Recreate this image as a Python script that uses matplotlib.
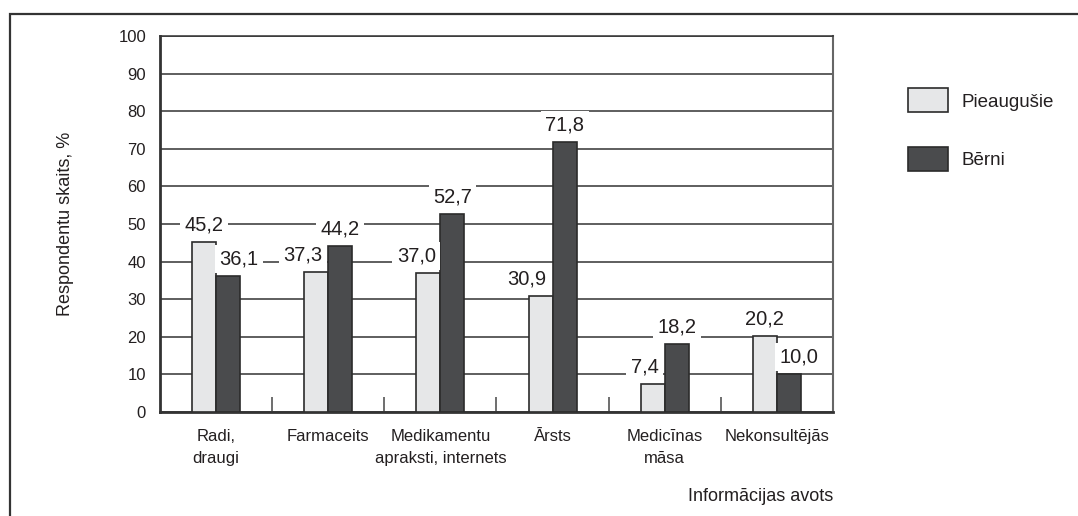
import matplotlib
matplotlib.use("Agg")
import matplotlib.pyplot as plt
import matplotlib.patches as mpatches
import numpy as np

# data
categories = ["Radi,\ndraugi", "Farmaceits", "Medikamentu\napraksti, internets",
              "Ārsts", "Medicīnas\nmāsa", "Nekonsultējās"]
adults = [45.2, 37.3, 37.0, 30.9, 7.4, 20.2]
children = [36.1, 44.2, 52.7, 71.8, 18.2, 10.0]
series_names = ["Pieaugušie", "Bērni"]
y_ticks = [0, 10, 20, 30, 40, 50, 60, 70, 80, 90, 100]

# horizontal nudges (pixels) of the value labels, as in the original layout
adult_label_dx = [0, -13, -12, -14, -8, 0]
child_label_dx = [11, 0, 0, 0, 0, 10]

plt.rcParams['font.family'] = ['Liberation Sans', 'DejaVu Sans']
txt_col = '#231f20'
light = '#e6e7e8'
dark = '#4a4b4d'
edge = '#2b2b2b'

fig = plt.figure(figsize=(10.78, 5.16), dpi=100)
ax = fig.add_axes([160/1078, 1-412/516, (833-160)/1078, (412-36)/516])

x = np.arange(len(categories))
w = 0.214
b1 = ax.bar(x - w/2, adults, w, color=light, edgecolor=edge, linewidth=1.2,
            label=series_names[0], zorder=3)
b2 = ax.bar(x + w/2, children, w, color=dark, edgecolor=edge, linewidth=1.2,
            label=series_names[1], zorder=3)

def fmt(v):
    return f"{v:.1f}".replace(".", ",")

for bars, vals, dxs in [(b1, adults, adult_label_dx), (b2, children, child_label_dx)]:
    for bar, v, dx in zip(bars, vals, dxs):
        ax.annotate(fmt(v), (bar.get_x() + bar.get_width()/2, v),
                    xytext=(dx, 17), textcoords='offset pixels',
                    ha='center', va='center', fontsize=14.5, color=txt_col,
                    bbox=dict(boxstyle='square,pad=0.22', fc='white', ec='none'),
                    zorder=4)

ax.set_xlim(-0.5, len(categories) - 0.5)
ax.set_ylim(0, 100)
ax.set_yticks(y_ticks)
ax.yaxis.grid(True, color='#333333', linewidth=1.1, zorder=1)
ax.set_axisbelow(True)

# small separators between the category groups
ax.vlines(x[:-1] + 0.5, 0, 4, color='#555555', linewidth=1.2, zorder=2)

ax.set_xticks(x)
ax.set_xticklabels(categories, fontsize=12, color=txt_col, linespacing=1.65)
ax.tick_params(axis='x', length=0, pad=12)
ax.tick_params(axis='y', length=0, pad=10, labelsize=12, labelcolor=txt_col)

for s in ['left', 'bottom']:
    ax.spines[s].set_linewidth(2)
    ax.spines[s].set_color('#333333')
ax.spines['right'].set_linewidth(1.5)
ax.spines['right'].set_color('#666666')
ax.spines['top'].set_linewidth(1.1)
ax.spines['top'].set_color('#333333')

ax.set_ylabel("Respondentu skaits, %", fontsize=13, color=txt_col)
ax.yaxis.set_label_coords((74 - 160)/673, 0.5)
ax.set_xlabel("Informācijas avots", fontsize=13, color=txt_col, loc='right')
ax.xaxis.set_label_coords(1.0, -(488 - 412)/376)

leg = ax.legend(loc='upper left', bbox_to_anchor=(899/1078, 1 - 79/516),
                bbox_transform=fig.transFigure, frameon=False, fontsize=13.5,
                handlelength=2.1, handleheight=1.6, handletextpad=0.75,
                labelspacing=1.85, borderpad=0)
for t in leg.get_texts():
    t.set_color(txt_col)

# outer frame around the figure
frame = mpatches.Rectangle((10/1078, -0.1), 1.2, 1 - 14/516 + 0.1,
                           transform=fig.transFigure, fill=False,
                           edgecolor='#333333', linewidth=1.6)
fig.patches.append(frame)

fig.savefig("out.png", dpi=100, facecolor='white')
